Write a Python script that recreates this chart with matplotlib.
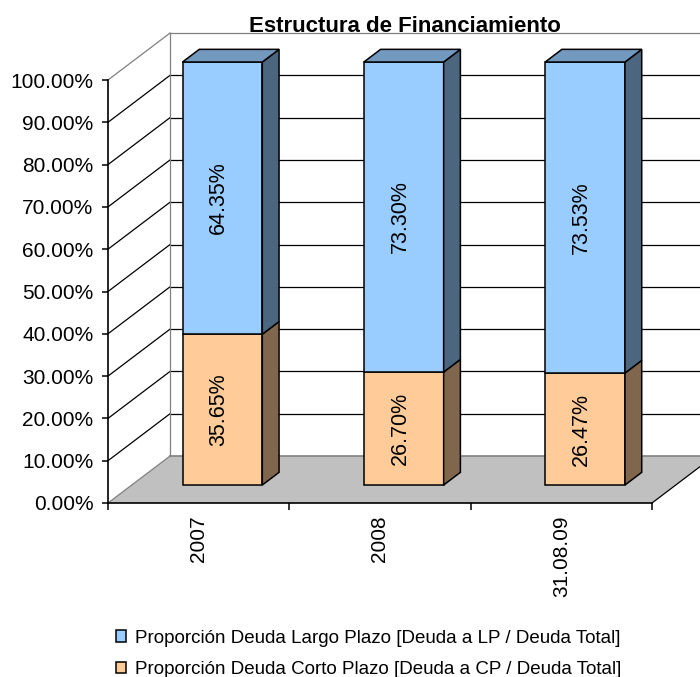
import matplotlib
matplotlib.use('Agg')
import matplotlib.pyplot as plt
from matplotlib.patches import Polygon, Patch

plt.rcParams['font.family'] = ['Liberation Sans', 'DejaVu Sans']

#chart data
categories = ['2007', '2008', '31.08.09']
corto_plazo = [35.65, 26.70, 26.47]
largo_plazo = [64.35, 73.30, 73.53]
series_names = ['Proporción Deuda Largo Plazo [Deuda a LP / Deuda Total]',
                'Proporción Deuda Corto Plazo [Deuda a CP / Deuda Total]']
title = 'Estructura de Financiamiento'

#colours (front, side, top)
blue = ('#99CCFF', '#4C6680', '#7399BF')
orange = ('#FFCC99', '#80664C', '#BF9973')
floor_col = '#C0C0C0'
frame_col = '#808080'

W, H = 700, 677
fig = plt.figure(figsize=(W/100, H/100), dpi=100)
ax = fig.add_axes([108/W, 1-503/H, 544/W, 423/H])
n = len(categories)
ax.set_xlim(0, n)
ax.set_ylim(0, 1)
ax.patch.set_visible(False)

#oblique depth offset (full depth) in data units
DX, DY = 0.342, 0.111
lw = 0.9

def P(x, y, d):
  return (x + d*DX, y + d*DY)

#floor
ax.add_patch(Polygon([P(0,0,0), P(n,0,0), P(n,0,1), P(0,0,1)], closed=True,
  facecolor=floor_col, edgecolor='none', zorder=1, clip_on=False))
ax.plot([DX, n+DX], [DY, DY], color=frame_col, lw=1.2, zorder=1.2, clip_on=False)
ax.plot([n, n+DX], [0, DY], color='black', lw=lw, zorder=1.2, clip_on=False)

#walls and gridlines
for k in range(11):
  y = k/10.
  col = 'black' if 0 < k < 10 else frame_col
  ax.plot([0, DX], [y, y+DY], color=col, lw=lw, zorder=1.1, clip_on=False)
  if k > 0:
    ax.plot([DX, n+DX], [y+DY, y+DY], color=col, lw=lw, zorder=1.1, clip_on=False)
ax.plot([DX, DX], [DY, 1+DY], color=frame_col, lw=lw, zorder=1.1, clip_on=False)

#bars
d0, d1 = 0.383, 0.653
bw = 0.44
for i in range(n):
  x0 = i + 0.5 - bw/2
  x1 = i + 0.5 + bw/2
  segs = [(0, corto_plazo[i]/100., orange, corto_plazo[i]),
          (corto_plazo[i]/100., 1.0, blue, largo_plazo[i])]
  for j, (lo, hi, cols, val) in enumerate(segs):
    ax.add_patch(Polygon([P(x0,lo,d0), P(x1,lo,d0), P(x1,hi,d0), P(x0,hi,d0)],
      facecolor=cols[0], edgecolor='black', lw=1.1, zorder=3, clip_on=False))
    ax.add_patch(Polygon([P(x1,lo,d0), P(x1,lo,d1), P(x1,hi,d1), P(x1,hi,d0)],
      facecolor=cols[1], edgecolor='black', lw=1.1, zorder=3, clip_on=False))
    if j == len(segs)-1:
      ax.add_patch(Polygon([P(x0,hi,d0), P(x1,hi,d0), P(x1,hi,d1), P(x0,hi,d1)],
        facecolor=cols[2], edgecolor='black', lw=1.1, zorder=3, clip_on=False))
    cx, cy = P(i + 0.48, (lo+hi)/2., d0)
    ax.text(cx, cy, '%.2f%%' % val, rotation=90, ha='center', va='center',
      fontsize=15.5, zorder=4)

#axes
for s in ['top', 'right']:
  ax.spines[s].set_visible(False)
for s in ['left', 'bottom']:
  ax.spines[s].set_linewidth(1.2)
  ax.spines[s].set_zorder(2)
yt = [k/10. for k in range(11)]
ax.set_yticks(yt)
ax.set_yticklabels(['%.2f%%' % (v*100) for v in yt])
ax.tick_params(axis='y', length=4.5, width=1.1, labelsize=15, pad=6)
ax.set_xticks(range(n+1))
ax.set_xticklabels([''] * (n+1))
ax.tick_params(axis='x', which='major', length=5, width=1.1)
ax.set_xticks([i + 0.5 for i in range(n)], minor=True)
ax.set_xticklabels(categories, minor=True, rotation=90, fontsize=15)
ax.tick_params(axis='x', which='minor', length=0, pad=9)

fig.text(405/W, 1-32/H, title, ha='center', va='baseline', fontsize=16,
  fontweight='bold')

handles = [Patch(facecolor=blue[0], edgecolor='black', lw=1.1),
           Patch(facecolor=orange[0], edgecolor='black', lw=1.1)]
fig.legend(handles, series_names, loc='center left',
  bbox_to_anchor=(116/W, 1-654/H), frameon=False, fontsize=13.5,
  handlelength=0.55, handleheight=0.55, handletextpad=0.45, labelspacing=0.78,
  borderpad=0, borderaxespad=0)

fig.savefig('out.png', dpi=100)
